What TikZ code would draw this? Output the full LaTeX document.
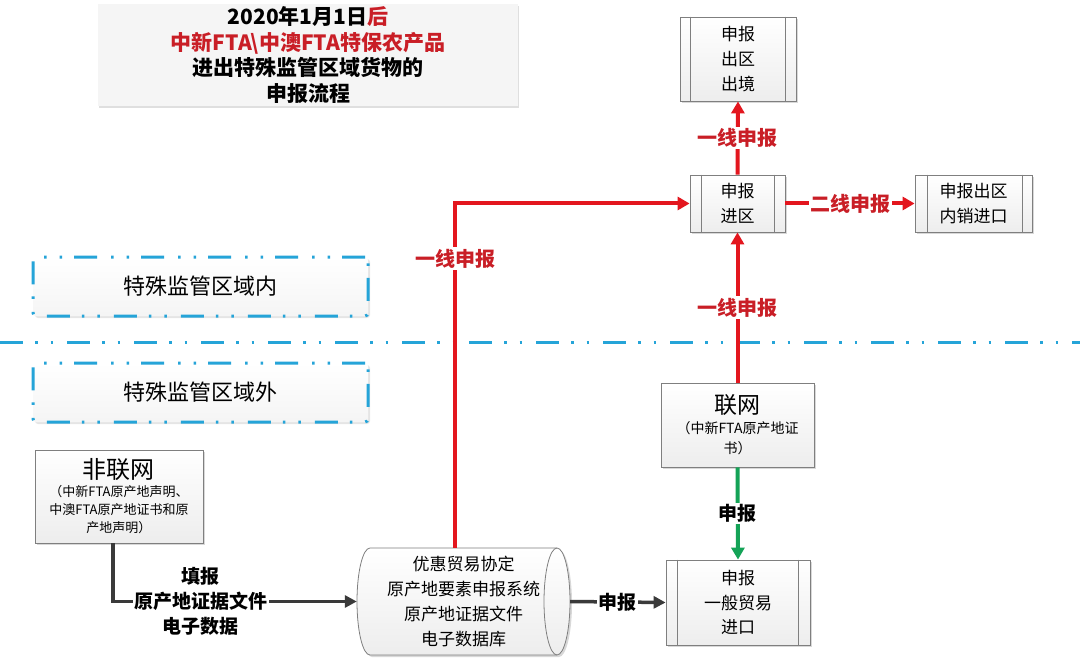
\documentclass[tikz,border=0pt]{standalone}
\usepackage{fontspec}
\setmainfont{Noto Sans CJK SC}
\usetikzlibrary{arrows.meta,shadows,calc}
\definecolor{lred}{HTML}{E3161E}
\definecolor{tred}{HTML}{C91E26}
\definecolor{zcyan}{HTML}{25A4D8}
\definecolor{dgreen}{HTML}{14A357}
\definecolor{dark}{HTML}{3A3A3A}
\definecolor{bord}{HTML}{7F7F7F}
\newcommand\sidebars[3]{%
  \draw[bord,line width=0.8pt] ([xshift=#2]#1.north west) -- ([xshift=#2]#1.south west);
  \draw[bord,line width=0.8pt] ([xshift=-#3]#1.north east) -- ([xshift=-#3]#1.south east);}
\begin{document}
\begin{tikzpicture}[x=1pt,y=1pt,
  procbox/.style={draw=bord, line width=0.8pt, top color=white, bottom color=gray!14,
    drop shadow={shadow xshift=2pt,shadow yshift=-2pt,opacity=0.3,fill=gray},
    align=center, inner sep=0pt, font=\fontsize{17}{25}\selectfont},
  zonebox/.style={draw=zcyan, line width=3pt,
    dash pattern=on 23pt off 12pt on 2.5pt off 13pt on 2.5pt off 14pt,
    top color=white, bottom color=gray!8, rounded corners=3pt,
    drop shadow={shadow xshift=2pt,shadow yshift=-2pt,opacity=0.2,fill=gray},
    minimum width=335pt, minimum height=59pt, font=\fontsize{22}{26}\selectfont},
  zoneline/.style={draw=zcyan, line width=3pt,
    dash pattern=on 23pt off 12pt on 2.5pt off 13pt on 2.5pt off 14pt},
  redarrow/.style={draw=lred, line width=4pt, -{Triangle[length=12pt,width=13pt]}},
  greenarrow/.style={draw=dgreen, line width=4pt, -{Triangle[length=12pt,width=13pt]}},
  darkarrow/.style={draw=dark, line width=3.5pt, -{Triangle[length=12pt,width=12pt]}},
  redlabel/.style={fill=white, text=tred, font=\bfseries\fontsize{20}{24}\selectfont, inner sep=1.5pt},
  blacklabel/.style={fill=white, text=black, font=\bfseries\fontsize{19}{25}\selectfont, inner sep=1.5pt, align=center}
]
\useasboundingbox (0,0) rectangle (1080,-658);
\fill[white] (0,0) rectangle (1080,-658);

% title
\node[fill=gray!8, drop shadow={shadow xshift=1pt,shadow yshift=-2pt,opacity=0.25,fill=gray},
  minimum width=420pt, minimum height=102pt, align=center, inner sep=0pt,
  font=\bfseries\fontsize{21}{25.5}\selectfont] (title) at (308,-55)
  {2020年1月1日\textcolor{tred}{后}\\
   \textcolor{tred}{中新FTA\textbackslash 中澳FTA特保农产品}\\
   进出特殊监管区域货物的\\
   申报流程};

% zone boxes and separator
\node[zonebox] (inner) at (200.5,-286.5) {特殊监管区域内};
\node[zonebox] (outer) at (200.5,-392.5) {特殊监管区域外};
\coordinate (sepL) at (0,-342);
\coordinate (sepR) at (1080,-342);
\draw[zoneline] (sepL) -- (sepR);

% process boxes
\node[procbox, minimum width=116pt, minimum height=84pt] (chujing) at (738,-59) {申报\\出区\\出境};
\sidebars{chujing}{11pt}{11pt}
\node[procbox, minimum width=95pt, minimum height=57pt] (jinqu) at (737.5,-203.5) {申报\\进区};
\sidebars{jinqu}{12pt}{11pt}
\node[procbox, minimum width=117pt, minimum height=57pt] (neixiao) at (973.5,-203.5) {申报出区\\内销进口};
\sidebars{neixiao}{13pt}{10pt}
\node[procbox, minimum width=144pt, minimum height=85pt, font=\fontsize{17}{24.5}\selectfont] (yiban) at (738,-602.5) {申报\\一般贸易\\进口};
\sidebars{yiban}{12pt}{12pt}

\node[procbox, minimum width=153pt, minimum height=84pt, font=\fontsize{14}{20}\selectfont] (lianwang) at (737.5,-425)
  {{\fontsize{23}{26}\selectfont 联网}\\（中新FTA原产地证\\书）};
\node[procbox, minimum width=168pt, minimum height=93pt, font=\fontsize{13}{18}\selectfont] (feilian) at (119,-496.5)
  {{\fontsize{24}{27}\selectfont 非联网}\\（中新FTA原产地声明、\\中澳FTA原产地证书和原\\产地声明）};

% cylinder
\draw[bord, line width=0.8pt, top color=white, bottom color=gray!14,
  drop shadow={shadow xshift=2pt,shadow yshift=-2pt,opacity=0.3,fill=gray}]
  (370,-548) arc[start angle=90,end angle=270,x radius=13pt,y radius=53.5pt]
  -- (557,-655) arc[start angle=-90,end angle=90,x radius=13pt,y radius=53.5pt] -- cycle;
\draw[bord, line width=0.8pt] (557,-548) arc[start angle=90,end angle=270,x radius=13pt,y radius=53.5pt];
\node[minimum width=213pt, minimum height=107pt, inner sep=0pt, align=center,
  font=\fontsize{17}{25}\selectfont] (cyl) at (463.5,-601.5)
  {优惠贸易协定\\原产地要素申报系统\\原产地证据文件\\电子数据库};

% connectors
\draw[redarrow] (jinqu.north) -- node[redlabel]{一线申报} (chujing.south);
\draw[redarrow] (jinqu.east) -- node[redlabel]{二线申报} (neixiao.west);
\draw[redarrow] (lianwang.north) -- node[redlabel]{一线申报} (jinqu.south);
\draw[redarrow] ([xshift=-8.5pt]cyl.north) |- node[redlabel, pos=0.42]{一线申报} (jinqu.west);
\draw[greenarrow] (lianwang.south) -- node[blacklabel]{申报} (yiban.north);
\draw[darkarrow] ([xshift=-6pt]feilian.south) |- node[blacklabel, pos=0.68]{填报\\原产地证据文件\\电子数据} (cyl.west);
\draw[darkarrow] (cyl.east) -- node[blacklabel]{申报} (yiban.west);
\end{tikzpicture}
\end{document}
